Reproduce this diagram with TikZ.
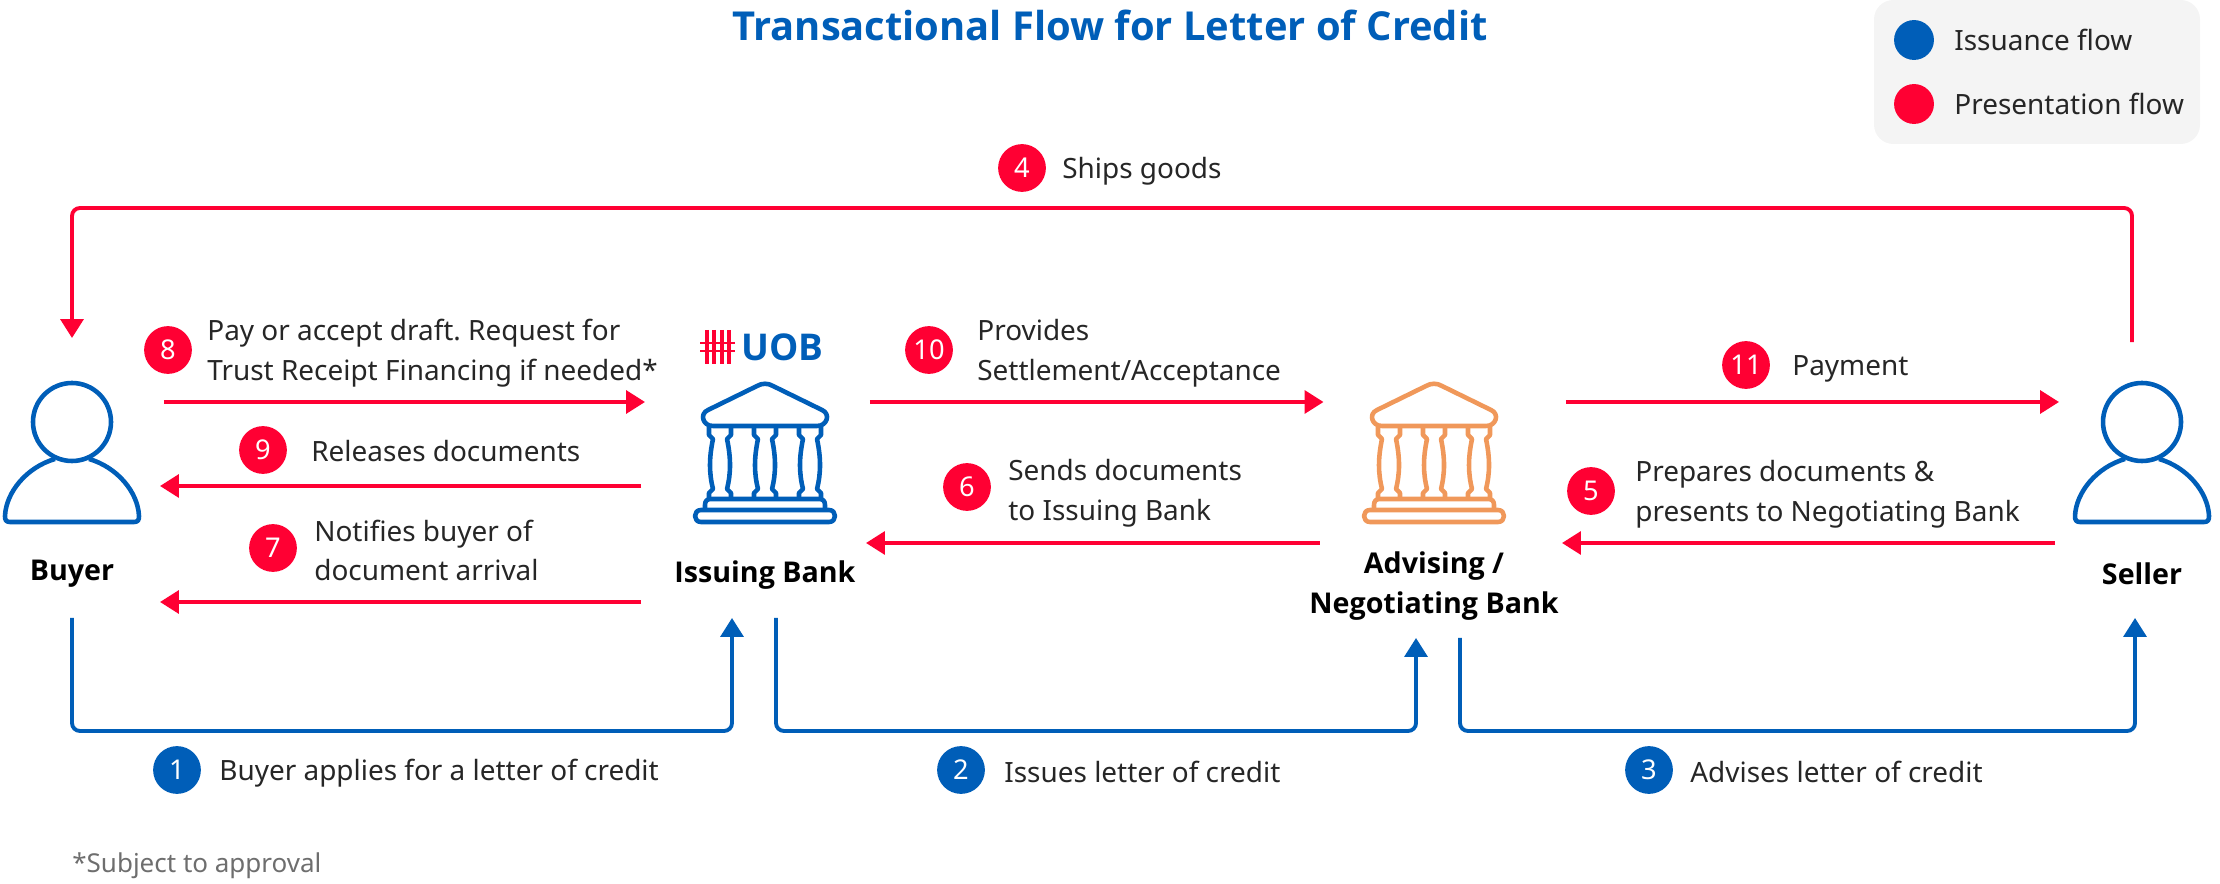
\documentclass[tikz,border=0pt]{standalone}
\usepackage{fontspec}
\setmainfont{Noto Sans}
\newfontfamily\headfont{Open Sans}
\usetikzlibrary{arrows.meta,calc}
\definecolor{issueblue}{RGB}{0,94,184}
\definecolor{presentred}{RGB}{255,0,51}
\definecolor{bankorange}{RGB}{240,152,90}
\definecolor{legendgray}{RGB}{244,244,244}
\definecolor{textdark}{RGB}{38,38,38}
\definecolor{notegray}{RGB}{110,110,110}
\newcommand{\heavy}{\headfont\bfseries}
\frenchspacing
\tikzset{
  redflow/.style={-{Triangle[length=10.8pt,width=13pt]}, line width=2.2pt, presentred, rounded corners=4.5pt},
  blueflow/.style={-{Triangle[length=10.8pt,width=13pt]}, line width=2.2pt, issueblue, rounded corners=4.5pt},
  laneflow/.style={redflow, shorten <=1.13pt, shorten >=-1.13pt},
  iconline/.style={line width=2.6pt, line join=round},
  hostbox/.style={inner sep=0pt, outer sep=0pt},
  badge/.style={circle, inner sep=0pt, minimum size=27.2pt, text=white, font=\fontsize{15.5}{18}\selectfont},
  redbadge/.style={badge, fill=presentred},
  bluebadge/.style={badge, fill=issueblue},
  legenddot/.style={circle, inner sep=0pt, minimum size=22.7pt},
  steptext/.style={anchor=west, inner sep=0pt, align=left, text=textdark, font=\fontsize{15.9}{22.7}\selectfont},
  actorlabel/.style={inner sep=0pt, align=center, text=black, font=\fontsize{16.3}{22.7}\selectfont\heavy},
  personicon/.pic={
    \draw[iconline] (0,0) circle (39);
    \draw[iconline] (-17,37) .. controls (-45,45) and (-66,70) .. (-67,94)
      .. controls (-67,98) and (-66,100) .. (-62,100) -- (62,100)
      .. controls (66,100) and (67,98) .. (67,94)
      .. controls (66,70) and (45,45) .. (17,37);
  },
  bankicon/.pic={
    % roof
    \draw[iconline] (-52,43) -- (52,43) .. controls (62,43) and (66,31) .. (57,27) -- (8,3)
      .. controls (3,0) and (-3,0) .. (-8,3) -- (-57,27)
      .. controls (-66,31) and (-62,43) .. (-52,43) -- cycle;
    % columns
    \foreach \cx in {-45,0,45} {
      \draw[iconline] (\cx-11,43) -- (\cx-11,52) -- (\cx-7,56) .. controls (\cx-11,75) and (\cx-11,90) .. (\cx-7,106)
        -- (\cx-11,110) -- (\cx-11,116);
      \draw[iconline] (\cx+11,43) -- (\cx+11,52) -- (\cx+7,56) .. controls (\cx+11,75) and (\cx+11,90) .. (\cx+7,106)
        -- (\cx+11,110) -- (\cx+11,116);
    }
    % steps
    \draw[iconline] (-60,127) -- (-60,122) .. controls (-60,118) and (-58,116) .. (-54,116) -- (54,116)
      .. controls (58,116) and (60,118) .. (60,122) -- (60,127);
    \draw[iconline] (-64,127) -- (64,127) .. controls (72,127) and (72,139) .. (64,139) -- (-64,139)
      .. controls (-72,139) and (-72,127) .. (-64,127) -- cycle;
  }
}
\begin{document}
\begin{tikzpicture}[x=0.02cm, y=-0.02cm]
  \useasboundingbox (0,0) rectangle (2220,884);

  \node[inner sep=0pt, text=issueblue, font=\fontsize{22.7}{26}\selectfont\heavy] (title) at (1110,25) {Transactional Flow for Letter of Credit};

  % legend
  \fill[legendgray, rounded corners=11pt] (1874,0) rectangle (2200,144);
  \node[legenddot, fill=issueblue] (dotissue) at (1914,40) {};
  \node[legenddot, fill=presentred] (dotpresent) at (1914,104) {};
  \node[steptext] (legissue) at (1954,40) {Issuance flow};
  \node[steptext] (legpresent) at (1954,104) {Presentation flow};

  % parties, the boxes only carry the connector ends
  \node[hostbox, minimum width=3.6cm, minimum height=5.6cm] (buyer) at (72,478) {};
  \node[hostbox, minimum width=4.5cm, minimum height=5.56cm] (issuing) at (755.5,479) {};
  \node[hostbox, minimum width=4.85cm, minimum height=5.96cm] (advising) at (1442.75,489) {};
  \node[hostbox, minimum width=3.4cm, minimum height=5.52cm] (seller) at (2142,480) {};

  \pic[color=issueblue] at (72,422) {personicon};
  \pic[color=issueblue] at (2142,422) {personicon};
  \pic[color=issueblue] at (765,383) {bankicon};
  \pic[color=bankorange] at (1434,383) {bankicon};

  \node[actorlabel] (buyerlabel) at (72,574) {Buyer};
  \node[actorlabel] (issuinglabel) at (765,575) {Issuing Bank};
  \node[actorlabel] (advisinglabel) at (1434,586.5) {Advising /\\Negotiating Bank};
  \node[actorlabel] (sellerlabel) at (2142,574) {Seller};

  % logo
  \foreach \bx in {707,714,722,729}
    \draw[presentred, line width=2.2pt] (\bx,330) -- (\bx,364);
  \foreach \by in {343,351}
    \draw[presentred, line width=1.7pt] (700,\by) -- (735,\by);
  \node[anchor=west, inner sep=0pt, text=issueblue, font=\fontsize{21}{26}\selectfont\heavy] (uob) at (741,347) {UOB};

  % lanes
  \coordinate (laneup) at (0,402);
  \coordinate (lanemid) at (0,486);
  \coordinate (lanedoc) at (0,543);
  \coordinate (lanelow) at (0,602);
  \coordinate (roofline) at (1100,208);
  \coordinate (floorone) at (400,731);
  \coordinate (floortwo) at (1100,731);
  \coordinate (floorthree) at (1800,731);

  % presentation flow
  \draw[redflow] ($(seller.north)+(-10,0)$) |- (roofline) -| (buyer.north);
  \draw[laneflow] (buyer.east |- laneup) -- (issuing.west |- laneup);
  \draw[laneflow] (issuing.west |- lanemid) -- (buyer.east |- lanemid);
  \draw[laneflow] (issuing.west |- lanelow) -- (buyer.east |- lanelow);
  \draw[laneflow] (issuing.east |- laneup) -- (advising.west |- laneup);
  \draw[laneflow] (advising.west |- lanedoc) -- (issuing.east |- lanedoc);
  \draw[laneflow] (advising.east |- laneup) -- (seller.west |- laneup);
  \draw[laneflow] (seller.west |- lanedoc) -- (advising.east |- lanedoc);

  % issuance flow
  \draw[blueflow] (buyer.south) |- (floorone) -| ($(issuing.south)+(-23.5,0)$);
  \draw[blueflow] ($(issuing.south)+(20.5,0)$) |- (floortwo) -| ($(advising.south)+(-26.75,0)$);
  \draw[blueflow] ($(advising.south)+(17.25,0)$) |- (floorthree) -| ($(seller.south)+(-7,0)$);

  % steps
  \node[redbadge] (stepfour) at (1022,168) {4};
  \node[steptext] (stepfourtext) at (1062,171) {Ships goods};
  \node[redbadge] (stepeight) at (168,350) {8};
  \node[steptext] (stepeighttext) at (207,353) {Pay or accept draft. Request for\\Trust Receipt Financing if needed*};
  \node[redbadge] (stepnine) at (263,450) {9};
  \node[steptext] (stepninetext) at (311,451) {Releases documents};
  \node[redbadge] (stepseven) at (273,548) {7};
  \node[steptext] (stepseventext) at (314,550.5) {Notifies buyer of\\document arrival};
  \node[redbadge] (stepten) at (929,350) {10};
  \node[steptext] (steptentext) at (977,353) {Provides\\Settlement/Acceptance};
  \node[redbadge] (stepsix) at (967,487) {6};
  \node[steptext] (stepsixtext) at (1008,493) {Sends documents\\to Issuing Bank};
  \node[redbadge] (stepeleven) at (1746,365) {11};
  \node[steptext] (stepeleventext) at (1792,369) {Payment};
  \node[redbadge] (stepfive) at (1591,491) {5};
  \node[steptext] (stepfivetext) at (1635,494) {Prepares documents \&\\presents to Negotiating Bank};
  \node[bluebadge] (stepone) at (177,770) {1};
  \node[steptext] (steponetext) at (219,773) {Buyer applies for a letter of credit};
  \node[bluebadge] (steptwo) at (961,770) {2};
  \node[steptext] (steptwotext) at (1004,771.5) {Issues letter of credit};
  \node[bluebadge] (stepthree) at (1649,770) {3};
  \node[steptext] (stepthreetext) at (1690,771.5) {Advises letter of credit};

  \node[steptext, text=notegray, font=\fontsize{14.8}{20}\selectfont] (footnote) at (72,866) {*Subject to approval};
\end{tikzpicture}
\end{document}
